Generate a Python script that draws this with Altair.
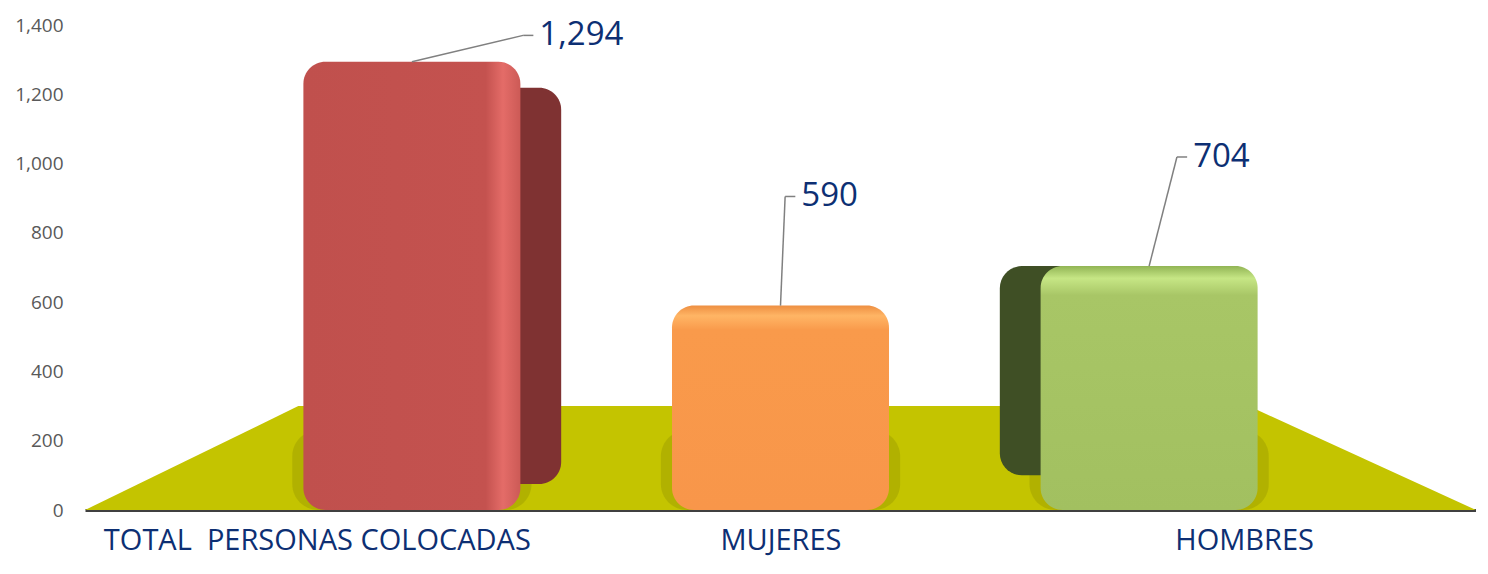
import altair as alt
import pandas as pd

# ---- data ----
categories = ["TOTAL\u00a0\u00a0PERSONAS COLOCADAS", "MUJERES", "HOMBRES"]
values = [1294, 590, 704]
value_labels = ["1,294", "590", "704"]
y_ticks = [0, 200, 400, 600, 800, 1000, 1200, 1400]

# ---- styles ----
side_colors = ["#7F3232", "#F99A4B", "#3F4F25"]
floor_color = "#C4C400"
label_color = "#0D2F73"
FONT = "Open Sans"

df = pd.DataFrame({
    "cat": categories,
    "value": values,
    "label": value_labels,
    "idx": list(range(len(categories))),
})

floor_df = pd.DataFrame({"fx": [0, 0.46, 2.51, 3], "fy": [0, 300, 300, 0]})

xscale = alt.Scale(domain=[0, 3], nice=False, zero=False)
yscale = alt.Scale(domain=[0, 1400], nice=False)
label_list = "[" + ",".join("'" + c + "'" for c in categories) + "]"
xaxis = alt.Axis(values=[0.5, 1.5, 2.5], labelExpr=label_list + "[floor(datum.value)]",
                 title=None, grid=False, ticks=False, domain=True,
                 domainColor="#404040", domainWidth=3, labelPadding=16,
                 labelFontSize=29, labelColor=label_color, labelFont=FONT,
                 labelBaseline="top", labelLimit=800)
yaxis = alt.Axis(values=y_ticks, format=",.0f", title=None, grid=False, ticks=False,
                 domain=False, labelPadding=22, labelFontSize=19,
                 labelColor="#595959", labelFont=FONT)


def X(f):
    return alt.X(f, type="quantitative", scale=xscale, axis=xaxis)


def Y(f):
    return alt.Y(f, type="quantitative", scale=yscale, axis=yaxis)


base = alt.Chart(df).transform_calculate(
    center="datum.idx + 0.5 - (datum.idx - 1) * 0.205",
    zero="0",
).transform_calculate(
    x0="datum.center - 0.234",
    x1="datum.center + 0.234",
    sx0="datum.center - 0.258",
    sx1="datum.center + 0.258",
    shadow_top="230",
    label_y="min(datum.value + 315, 1370)",
    lead_x="datum.center + 0.01 + max(0, 1 - datum.idx) * 0.23 + max(0, datum.idx - 1) * 0.05",
).transform_calculate(
    lead_x2="datum.lead_x + 0.022",
)

floor = alt.Chart(floor_df).mark_area(color=floor_color, interpolate="linear").encode(
    x=X("fx"), y=Y("fy")
)

shadow = base.mark_bar(color="#8F8F00", opacity=0.35, cornerRadius=26).encode(
    x=X("sx0"), x2="sx1", y=Y("shadow_top"), y2="zero"
)

red_side = base.transform_filter("datum.idx == 0").transform_calculate(
    a="datum.x0 + 0.088", b="datum.x1 + 0.088", top="datum.value - 75", bot="75"
).mark_bar(color=side_colors[0], cornerRadius=22).encode(
    x=X("a"), x2="b", y=Y("top"), y2="bot"
)

green_side = base.transform_filter("datum.idx == 2").transform_calculate(
    a="datum.x0 - 0.088", b="datum.x1 - 0.088", top="datum.value", bot="100"
).mark_bar(color=side_colors[2], cornerRadius=22).encode(
    x=X("a"), x2="b", y=Y("top"), y2="bot"
)

grad_red = alt.Gradient(gradient="linear", x1=0, y1=0, x2=1, y2=0, stops=[
    alt.GradientStop(color="#C0504D", offset=0),
    alt.GradientStop(color="#C4524F", offset=0.84),
    alt.GradientStop(color="#E46C68", offset=0.92),
    alt.GradientStop(color="#CC5A56", offset=1),
])
grad_orange = alt.Gradient(gradient="linear", x1=0, y1=0, x2=0, y2=1, stops=[
    alt.GradientStop(color="#EE8F42", offset=0),
    alt.GradientStop(color="#FFB565", offset=0.05),
    alt.GradientStop(color="#F99A4B", offset=0.12),
    alt.GradientStop(color="#F8964A", offset=1),
])
grad_green = alt.Gradient(gradient="linear", x1=0, y1=0, x2=0, y2=1, stops=[
    alt.GradientStop(color="#92B555", offset=0),
    alt.GradientStop(color="#C6E685", offset=0.05),
    alt.GradientStop(color="#A8C666", offset=0.12),
    alt.GradientStop(color="#A2C060", offset=1),
])
grads = [grad_red, grad_orange, grad_green]

bars = [
    base.transform_filter(f"datum.idx == {i}").mark_bar(color=grads[i], cornerRadius=22).encode(
        x=X("x0"), x2="x1", y=Y("value"), y2="zero"
    )
    for i in range(len(categories))
]

leader = base.mark_rule(color="#808080", strokeWidth=1.5).encode(
    x=X("center"), y=Y("value"), x2="lead_x", y2="label_y"
)
leader_h = base.mark_rule(color="#808080", strokeWidth=1.5).encode(
    x=X("lead_x"), y=Y("label_y"), x2="lead_x2", y2="label_y"
)
text = base.mark_text(align="left", baseline="middle", dx=6, fontSize=33,
                      font=FONT, color=label_color).encode(
    x=X("lead_x2"), y=Y("label_y"), text="label:N"
)

chart = alt.layer(floor, shadow, red_side, green_side, *bars, leader, leader_h, text).properties(
    width=1391, height=485,
    autosize=alt.AutoSizeParams(type="none"),
    padding={"left": 77, "top": 17, "right": 0, "bottom": 56},
    background="white",
).configure_view(stroke=None)

chart.save("out.html", embed_options={"renderer": "svg", "actions": False})
